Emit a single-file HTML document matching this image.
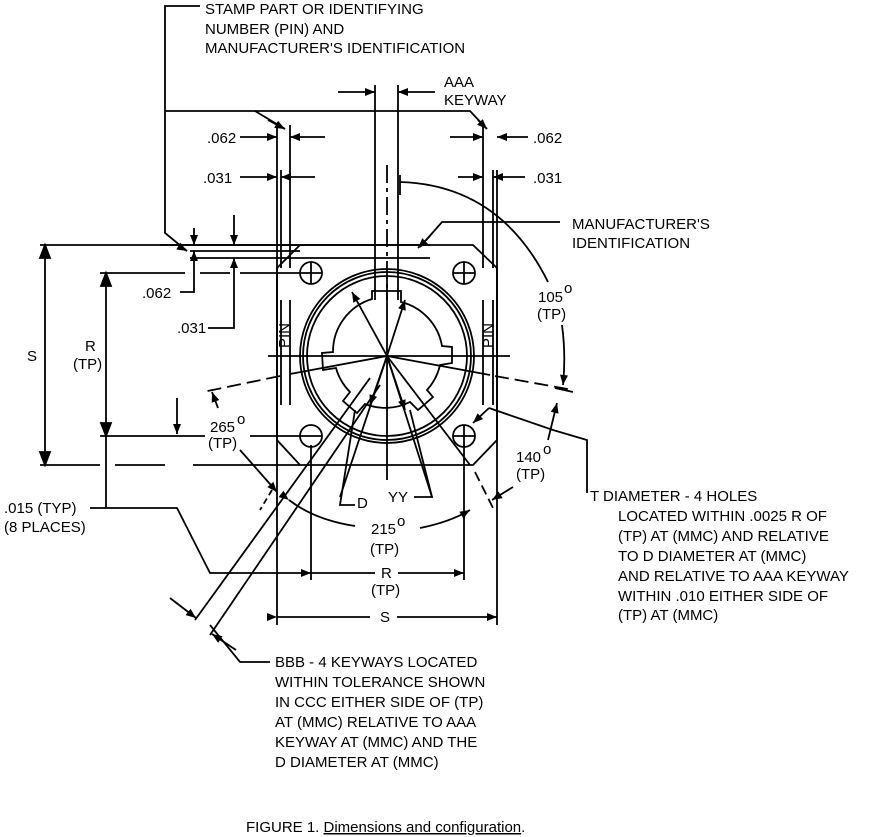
<!DOCTYPE html>
<html><head><meta charset="utf-8"><style>
html,body{margin:0;padding:0;background:#fff;}
svg{display:block;font-family:"Liberation Sans",sans-serif;}
text{font-size:15px;fill:#000;}
</style></head><body>
<svg width="890" height="837" viewBox="0 0 890 837" xmlns="http://www.w3.org/2000/svg">
<defs>
<marker id="a" viewBox="0 0 10 10" refX="10" refY="5" markerWidth="14" markerHeight="10" markerUnits="userSpaceOnUse" orient="auto"><path d="M0,1 L10,5 L0,9z" fill="#000"/></marker>
</defs>
<g stroke="#000" stroke-width="1.8" fill="none">
<path d="M300,245 L473,245 L497,268 L497,440 L473,465 L300,465 L277,440 L277,268 Z"/>
<line x1="277" y1="125" x2="277" y2="625"/>
<line x1="281" y1="170" x2="281" y2="268"/>
<line x1="290" y1="125" x2="290" y2="268"/>
<line x1="483" y1="125" x2="483" y2="268"/>
<line x1="493" y1="170" x2="493" y2="268"/>
<line x1="497" y1="170" x2="497" y2="625"/>
<line x1="281" y1="300" x2="281" y2="405"/><line x1="290" y1="300" x2="290" y2="405"/>
<line x1="483" y1="300" x2="483" y2="405"/><line x1="493" y1="300" x2="493" y2="405"/>
<line x1="311" y1="445" x2="311" y2="580"/>
<line x1="464" y1="445" x2="464" y2="580"/>
<line x1="375" y1="85" x2="375" y2="300"/>
<line x1="398" y1="85" x2="398" y2="300"/>
<line x1="387" y1="165" x2="387" y2="300" stroke-dasharray="18,5,4,5"/>
<line x1="40" y1="245" x2="300" y2="245"/>
<line x1="190" y1="251" x2="300" y2="251"/>
<line x1="190" y1="258" x2="430" y2="258"/>
<line x1="160" y1="245" x2="430" y2="245"/>
<line x1="40" y1="465" x2="100" y2="465"/><line x1="115" y1="465" x2="165" y2="465"/><line x1="193" y1="465" x2="300" y2="465"/>
<line x1="100" y1="273" x2="185" y2="273"/><line x1="200" y1="273" x2="230" y2="273"/><line x1="240" y1="273" x2="300" y2="273"/>
<line x1="100" y1="436" x2="205" y2="436"/><line x1="250" y1="436" x2="300" y2="436"/>
<circle cx="387" cy="356" r="87"/>
<circle cx="387" cy="356" r="84"/>
<circle cx="387" cy="356" r="80"/>
<path d="M372,299 L372,291 L401,291 L401,302 A55,55 0 0 1 442,346 L452,347 L452,363 L440,365 A55,55 0 0 1 427,390 L433,397 L418,410 L410,402 A55,55 0 0 1 365,404 L357,413 L343,401 L350,392 A55,55 0 0 1 336,368 L323,370 L322,353 L333,352 A55,55 0 0 1 372,299 Z"/>
<circle cx="311" cy="273" r="11"/><circle cx="464" cy="273" r="11"/>
<circle cx="311" cy="436" r="11"/><circle cx="464" cy="436" r="11"/>
<line x1="300" y1="273" x2="322" y2="273"/><line x1="311" y1="262" x2="311" y2="284"/>
<line x1="453" y1="273" x2="475" y2="273"/><line x1="464" y1="262" x2="464" y2="284"/>
<line x1="300" y1="436" x2="322" y2="436"/>
<line x1="453" y1="436" x2="475" y2="436"/><line x1="464" y1="425" x2="464" y2="447"/>
<line x1="268" y1="356" x2="510" y2="356"/>
<line x1="387" y1="275" x2="387" y2="480"/>
<line x1="387" y1="356" x2="290" y2="374"/>
<line x1="280" y1="376" x2="203" y2="392" stroke-dasharray="14,6"/>
<line x1="387" y1="356" x2="490" y2="375"/>
<line x1="495" y1="376" x2="573" y2="390" stroke-dasharray="14,6"/>
<line x1="555" y1="388" x2="573" y2="392"/>
<line x1="387" y1="356" x2="352" y2="292" marker-end="url(#a)"/>
<line x1="387" y1="356" x2="405" y2="300" marker-end="url(#a)"/>
<line x1="387" y1="356" x2="370" y2="405" marker-end="url(#a)"/>
<line x1="387" y1="356" x2="405" y2="410" marker-end="url(#a)"/>
<line x1="387" y1="356" x2="340" y2="497"/>
<line x1="387" y1="356" x2="432" y2="497"/>
<line x1="387" y1="356" x2="470" y2="465"/>
<line x1="475" y1="472" x2="493" y2="508" stroke-dasharray="10,5"/>
<line x1="370" y1="378" x2="195" y2="620"/>
<line x1="380" y1="385" x2="210" y2="635"/>
<polyline points="355,410 340,505 355,505"/>
<polyline points="410,410 432,497 414,497"/>
<path d="M400,182 Q500,185 548,282"/>
<line x1="400" y1="175" x2="400" y2="195"/>
<path d="M562,325 Q566,355 563,385" marker-end="url(#a)"/>
<path d="M548,440 L557,403" marker-end="url(#a)"/>
<path d="M513,487 L492,500" marker-end="url(#a)"/>
<path d="M289,500 Q315,520 355,526" marker-start="url(#a)"/>
<path d="M420,528 Q450,522 470,510" marker-end="url(#a)"/>
<line x1="218" y1="408" x2="212" y2="392" marker-end="url(#a)"/>
<line x1="240" y1="450" x2="277" y2="492" marker-end="url(#a)"/>
<line x1="272" y1="490" x2="260" y2="510" stroke-dasharray="6,4"/>
<line x1="45" y1="250" x2="45" y2="460"/>
<path d="M45,245 L40,258 L50,258Z" fill="#000"/><path d="M45,465 L40,452 L50,452Z" fill="#000"/>
<line x1="106" y1="278" x2="106" y2="431"/>
<path d="M106,273 L101,286 L111,286Z" fill="#000"/><path d="M106,436 L101,423 L111,423Z" fill="#000"/>
<line x1="106" y1="436" x2="106" y2="508"/>
<line x1="177" y1="398" x2="177" y2="434" marker-end="url(#a)"/>
<line x1="277" y1="617" x2="370" y2="617" marker-start="url(#a)"/>
<line x1="397" y1="617" x2="497" y2="617" marker-end="url(#a)"/>
<line x1="311" y1="573" x2="375" y2="573" marker-start="url(#a)"/>
<line x1="398" y1="573" x2="464" y2="573" marker-end="url(#a)"/>
<polyline points="90,508 177,508 210,573 311,573"/>
<line x1="240" y1="137" x2="277" y2="137" marker-end="url(#a)"/>
<line x1="325" y1="137" x2="290" y2="137" marker-end="url(#a)"/>
<line x1="240" y1="177" x2="277" y2="177" marker-end="url(#a)"/>
<line x1="315" y1="177" x2="281" y2="177" marker-end="url(#a)"/>
<line x1="450" y1="137" x2="483" y2="137" marker-end="url(#a)"/>
<line x1="528" y1="137" x2="497" y2="137" marker-end="url(#a)"/>
<line x1="458" y1="177" x2="483" y2="177" marker-end="url(#a)"/>
<line x1="525" y1="177" x2="493" y2="177" marker-end="url(#a)"/>
<line x1="338" y1="92" x2="375" y2="92" marker-end="url(#a)"/>
<line x1="435" y1="92" x2="398" y2="92" marker-end="url(#a)"/>
<polyline points="200,6 165,6 165,233 187,251"/>
<path d="M180,247 L187,251" marker-end="url(#a)"/>
<polyline points="165,111 470,111 487,129"/>
<path d="M478,120 L487,129" marker-end="url(#a)"/>
<path d="M268,120 L285,129" marker-end="url(#a)"/>
<line x1="255" y1="111" x2="285" y2="129"/>
<line x1="194" y1="228" x2="194" y2="245" marker-end="url(#a)"/>
<line x1="194" y1="275" x2="194" y2="251" marker-end="url(#a)"/>
<line x1="234" y1="215" x2="234" y2="245" marker-end="url(#a)"/>
<line x1="234" y1="285" x2="234" y2="258" marker-end="url(#a)"/>
<polyline points="180,292 194,292 194,275"/>
<polyline points="208,328 234,328 234,285"/>
<polyline points="560,222 442,222 420,247"/>
<path d="M430,236 L418,248" marker-end="url(#a)"/>
<polyline points="587,493 587,440 553,430 489,408"/>
<path d="M489,408 L473,423" marker-end="url(#a)"/>
<polyline points="270,662 240,662 210,625"/>
<line x1="170" y1="598" x2="196" y2="618" marker-end="url(#a)"/>
<line x1="236" y1="650" x2="212" y2="634" marker-end="url(#a)"/>
</g>
<g font-size="15">
<text x="205" y="14">STAMP PART OR IDENTIFYING</text>
<text x="205" y="34">NUMBER (PIN) AND</text>
<text x="205" y="53">MANUFACTURER'S IDENTIFICATION</text>
<text x="444" y="87">AAA</text>
<text x="444" y="105">KEYWAY</text>
<text x="207" y="143">.062</text>
<text x="533" y="143">.062</text>
<text x="203" y="183">.031</text>
<text x="533" y="183">.031</text>
<text x="572" y="229">MANUFACTURER'S</text>
<text x="572" y="248">IDENTIFICATION</text>
<text x="142" y="298">.062</text>
<text x="177" y="333">.031</text>
<text x="85" y="351">R</text>
<text x="73" y="369">(TP)</text>
<text x="27" y="361">S</text>
<text x="538" y="302">105</text><text x="564" y="293" font-size="11">o</text>
<text x="537" y="319">(TP)</text>
<text x="210" y="432">265</text><text x="237" y="424" font-size="11">o</text>
<text x="208" y="448">(TP)</text>
<text x="516" y="462">140</text><text x="543" y="454" font-size="11">o</text>
<text x="516" y="479">(TP)</text>
<text x="357" y="508">D</text>
<text x="388" y="502">YY</text>
<text x="371" y="534">215</text><text x="397" y="526" font-size="11">o</text>
<text x="370" y="554">(TP)</text>
<text x="381" y="578">R</text>
<text x="371" y="595">(TP)</text>
<text x="380" y="622">S</text>
<text x="4" y="513">.015 (TYP)</text>
<text x="4" y="532">(8 PLACES)</text>
<text x="590" y="501">T  DIAMETER - 4 HOLES</text>
<text x="618" y="521">LOCATED WITHIN .0025  R  OF</text>
<text x="618" y="541">(TP) AT (MMC) AND RELATIVE</text>
<text x="618" y="561">TO  D  DIAMETER AT (MMC)</text>
<text x="618" y="581">AND RELATIVE TO AAA KEYWAY</text>
<text x="618" y="601">WITHIN .010 EITHER SIDE OF</text>
<text x="618" y="620">(TP) AT (MMC)</text>
<text x="275" y="667">BBB - 4 KEYWAYS LOCATED</text>
<text x="275" y="687">WITHIN TOLERANCE SHOWN</text>
<text x="275" y="707">IN CCC EITHER SIDE OF (TP)</text>
<text x="275" y="727">AT (MMC) RELATIVE TO AAA</text>
<text x="275" y="747">KEYWAY AT (MMC) AND THE</text>
<text x="275" y="767">D  DIAMETER AT (MMC)</text>
<text x="246" y="832">FIGURE 1.  <tspan text-decoration="underline">Dimensions and configuration</tspan>.</text>
<text transform="translate(289,348) rotate(-90)" font-size="13">PIN</text>
<text transform="translate(493,348) rotate(-90)" font-size="13">PIN</text>
</g>
</svg>
</body></html>
